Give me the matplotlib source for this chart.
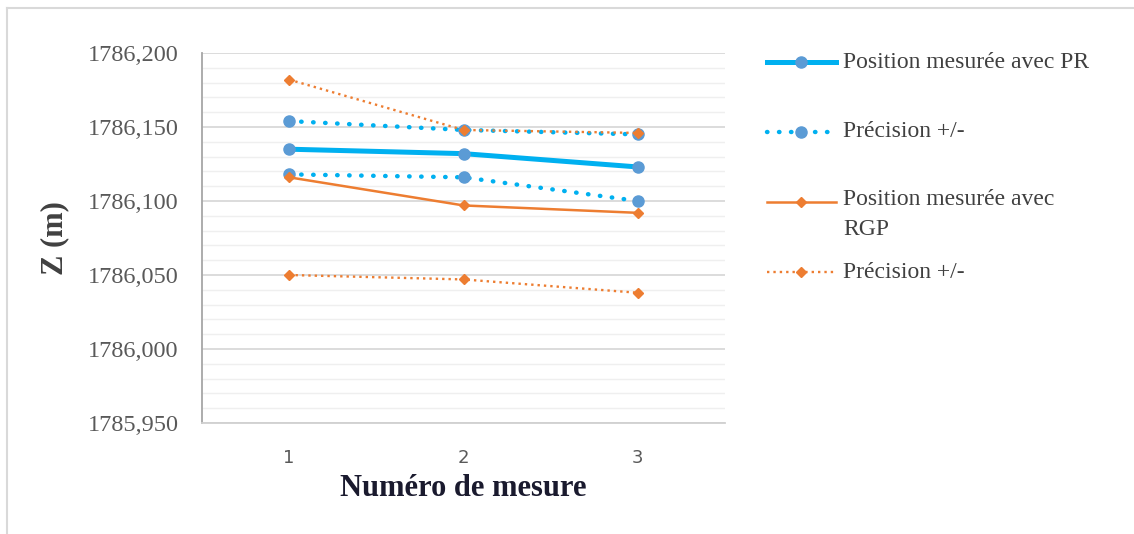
import matplotlib
matplotlib.use("Agg")
import matplotlib.pyplot as plt
from matplotlib.lines import Line2D
from matplotlib.ticker import FuncFormatter, MultipleLocator

# ---- data ----
mesures = [1, 2, 3]
pr_position = [1786.135, 1786.132, 1786.123]
pr_prec_haut = [1786.154, 1786.148, 1786.145]
pr_prec_bas = [1786.118, 1786.116, 1786.100]
rgp_position = [1786.116, 1786.097, 1786.092]
rgp_prec_haut = [1786.182, 1786.148, 1786.146]
rgp_prec_bas = [1786.050, 1786.047, 1786.038]
y_ticks = [1785.950, 1786.000, 1786.050, 1786.100, 1786.150, 1786.200]
labels = ["Position mesurée avec PR", "Précision +/-",
          "Position mesurée avec\nRGP", "Précision +/-"]

BLUE_L = "#00B0F0"
BLUE_M = "#5B9BD5"
ORANGE = "#ED7D31"
SERIF = "Liberation Serif"

fig = plt.figure(figsize=(11.34, 5.34), dpi=100)
ax = fig.add_axes([202/1134, 1-423/534, (725-202)/1134, (423-53)/534])

blue_dot = dict(color=BLUE_L, lw=3.2, linestyle=(0, (0.1, 2.6)), dash_capstyle="round",
                marker="o", ms=8, mfc=BLUE_M, mec=BLUE_M)
blue_solid = dict(color=BLUE_L, lw=3.6, marker="o", ms=8, mfc=BLUE_M, mec=BLUE_M)
or_solid = dict(color=ORANGE, lw=1.8, marker="D", ms=5.5, mfc=ORANGE, mec=ORANGE)
or_dot = dict(color=ORANGE, lw=1.7, linestyle=(0, (1, 1.7)), marker="D", ms=5.5,
              mfc=ORANGE, mec=ORANGE)

ax.plot(mesures, rgp_prec_bas, zorder=3, **or_dot)
ax.plot(mesures, pr_prec_bas, zorder=3, **blue_dot)
ax.plot(mesures, pr_prec_haut, zorder=3, **blue_dot)
ax.plot(mesures, pr_position, zorder=4, **blue_solid)
ax.plot(mesures, rgp_position, zorder=5, **or_solid)
ax.plot(mesures, rgp_prec_haut, zorder=5, **or_dot)

ax.set_xlim(0.5, 3.5)
ax.set_ylim(y_ticks[0], y_ticks[-1])
ax.set_xticks(mesures)
ax.set_yticks(y_ticks)
ax.yaxis.set_minor_locator(MultipleLocator(0.01))
ax.yaxis.set_major_formatter(FuncFormatter(lambda v, p: f"{v:.3f}".replace(".", ",")))
ax.grid(True, which="major", axis="y", color="#D9D9D9", lw=1.3, zorder=0)
ax.grid(True, which="minor", axis="y", color="#EFEFEF", lw=1.0, zorder=0)
ax.set_axisbelow(True)
for s in ["top", "right"]:
    ax.spines[s].set_visible(False)
ax.spines["left"].set_color("#A6A6A6")
ax.spines["left"].set_linewidth(1.3)
ax.spines["bottom"].set_color("#D0D0D0")
ax.spines["bottom"].set_linewidth(1.3)
ax.tick_params(axis="both", which="both", length=0)
ax.tick_params(axis="y", pad=17, labelsize=17.5, labelcolor="#595959")
ax.tick_params(axis="x", pad=19, labelsize=13, labelcolor="#595959")
for t in ax.get_yticklabels():
    t.set_family(SERIF)

ax.set_ylabel("Z (m)", family=SERIF, fontweight="bold", fontsize=22, color="#404040")
ax.yaxis.set_label_coords((55-202)/523, 0.5)
ax.yaxis.label.set_va("center")
ax.set_xlabel("Numéro de mesure", family=SERIF, fontweight="bold", fontsize=22, color="#1A1A2E")
ax.xaxis.set_label_coords(0.5, (423-489)/370)
ax.xaxis.label.set_va("center")

# ---- legend (drawn manually for Excel-like spacing) ----
W, H = 1134, 534
styles = [blue_solid, blue_dot, or_solid, or_dot]
rows_y = [62, 132, 202, 272]
for st, lab, yy in zip(styles, labels, rows_y):
    yf = 1 - yy / H
    ln = Line2D([767/W, 801/W, 836/W], [yf, yf, yf], transform=fig.transFigure,
                markevery=[1], **st)
    fig.add_artist(ln)
    if "\n" in lab:
        fig.text(843/W, 1 - 189/H, lab, family=SERIF, fontsize=17, color="#404040",
                 va="top", ha="left", linespacing=1.55)
    else:
        fig.text(843/W, yf, lab, family=SERIF, fontsize=17, color="#404040",
                 va="center", ha="left")

# ---- chart frame ----
fig.add_artist(Line2D([7/W, 7/W], [0, 1 - 8/H], transform=fig.transFigure, color="#D9D9D9", lw=1.5))
fig.add_artist(Line2D([7/W, 1], [1 - 8/H, 1 - 8/H], transform=fig.transFigure, color="#D9D9D9", lw=1.5))

fig.savefig("out.png", dpi=100)
